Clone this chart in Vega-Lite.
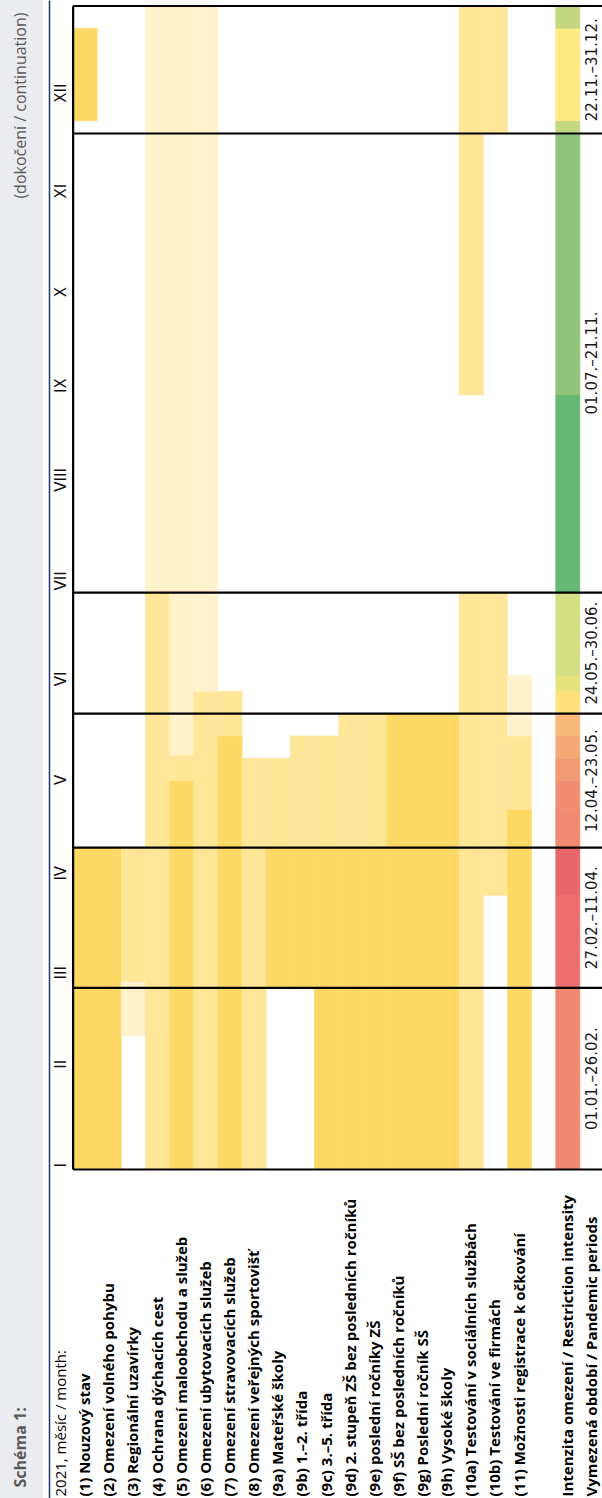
{
  "$schema": "https://vega.github.io/schema/vega-lite/v6.json",
  "width": 559,
  "height": 1498,
  "autosize": {"type": "none"},
  "padding": {"left": 43, "top": 0, "right": 0, "bottom": 0},
  "background": "#EBECEF",
  "view": {"fill": "white", "stroke": null},
  "datasets": {
    "bars": [
      {"row": "(1) Nouzový stav", "from": "2021-01-01", "to": "2021-04-12", "level": "dark"},
      {"row": "(1) Nouzový stav", "from": "2021-11-26", "to": "2021-12-25", "level": "dark"},
      {"row": "(2) Omezení volného pohybu", "from": "2021-01-01", "to": "2021-04-12", "level": "dark"},
      {"row": "(3) Regionální uzavírky", "from": "2021-02-12", "to": "2021-03-01", "level": "light"},
      {"row": "(3) Regionální uzavírky", "from": "2021-03-01", "to": "2021-04-12", "level": "mid"},
      {"row": "(4) Ochrana dýchacích cest", "from": "2021-01-01", "to": "2021-07-01", "level": "mid"},
      {"row": "(4) Ochrana dýchacích cest", "from": "2021-07-01", "to": "2022-01-01", "level": "light"},
      {"row": "(5) Omezení maloobchodu a služeb", "from": "2021-01-01", "to": "2021-05-03", "level": "dark"},
      {"row": "(5) Omezení maloobchodu a služeb", "from": "2021-05-03", "to": "2021-05-11", "level": "mid"},
      {"row": "(5) Omezení maloobchodu a služeb", "from": "2021-05-11", "to": "2022-01-01", "level": "light"},
      {"row": "(6) Omezení ubytovacích služeb", "from": "2021-01-01", "to": "2021-05-31", "level": "mid"},
      {"row": "(6) Omezení ubytovacích služeb", "from": "2021-05-31", "to": "2022-01-01", "level": "light"},
      {"row": "(7) Omezení stravovacích služeb", "from": "2021-01-01", "to": "2021-05-17", "level": "dark"},
      {"row": "(7) Omezení stravovacích služeb", "from": "2021-05-17", "to": "2021-05-31", "level": "mid"},
      {"row": "(8) Omezení veřejných sportovišť", "from": "2021-01-01", "to": "2021-05-10", "level": "mid"},
      {"row": "(9a) Mateřské školy", "from": "2021-02-27", "to": "2021-04-12", "level": "dark"},
      {"row": "(9a) Mateřské školy", "from": "2021-04-12", "to": "2021-05-10", "level": "mid"},
      {"row": "(9b) 1.–2. třída", "from": "2021-02-27", "to": "2021-04-12", "level": "dark"},
      {"row": "(9b) 1.–2. třída", "from": "2021-04-12", "to": "2021-05-17", "level": "mid"},
      {"row": "(9c) 3.–5.  třída", "from": "2021-01-01", "to": "2021-04-12", "level": "dark"},
      {"row": "(9c) 3.–5.  třída", "from": "2021-04-12", "to": "2021-05-17", "level": "mid"},
      {"row": "(9d) 2. stupeň ZŠ bez posledních ročníků", "from": "2021-01-01", "to": "2021-04-12", "level": "dark"},
      {"row": "(9d) 2. stupeň ZŠ bez posledních ročníků", "from": "2021-04-12", "to": "2021-05-24", "level": "mid"},
      {"row": "(9e) poslední ročníky ZŠ", "from": "2021-01-01", "to": "2021-04-12", "level": "dark"},
      {"row": "(9e) poslední ročníky ZŠ", "from": "2021-04-12", "to": "2021-05-24", "level": "mid"},
      {"row": "(9f) SŠ bez posledních ročníků", "from": "2021-01-01", "to": "2021-05-24", "level": "dark"},
      {"row": "(9g) Poslední ročník SŠ", "from": "2021-01-01", "to": "2021-05-24", "level": "dark"},
      {"row": "(9h) Vysoké školy", "from": "2021-01-01", "to": "2021-05-24", "level": "dark"},
      {"row": "(10a) Testování v sociálních službách", "from": "2021-01-01", "to": "2021-07-01", "level": "mid"},
      {"row": "(10a) Testování v sociálních službách", "from": "2021-09-01", "to": "2022-01-01", "level": "mid"},
      {"row": "(10b) Testování ve firmách", "from": "2021-03-28", "to": "2021-07-01", "level": "mid"},
      {"row": "(10b) Testování ve firmách", "from": "2021-11-22", "to": "2022-01-01", "level": "mid"},
      {"row": "(11) Možnosti registrace k očkování", "from": "2021-01-01", "to": "2021-04-24", "level": "dark"},
      {"row": "(11) Možnosti registrace k očkování", "from": "2021-04-24", "to": "2021-05-17", "level": "mid"},
      {"row": "(11) Možnosti registrace k očkování", "from": "2021-05-17", "to": "2021-06-05", "level": "light"},
      {"row": "Intenzita omezení / Restriction intensity", "from": "2021-01-01", "to": "2021-02-27", "level": "s1"},
      {"row": "Intenzita omezení / Restriction intensity", "from": "2021-02-27", "to": "2021-03-28", "level": "r1"},
      {"row": "Intenzita omezení / Restriction intensity", "from": "2021-03-28", "to": "2021-04-12", "level": "r2"},
      {"row": "Intenzita omezení / Restriction intensity", "from": "2021-04-12", "to": "2021-04-24", "level": "s2"},
      {"row": "Intenzita omezení / Restriction intensity", "from": "2021-04-24", "to": "2021-05-03", "level": "o1"},
      {"row": "Intenzita omezení / Restriction intensity", "from": "2021-05-03", "to": "2021-05-10", "level": "o2"},
      {"row": "Intenzita omezení / Restriction intensity", "from": "2021-05-10", "to": "2021-05-17", "level": "o3"},
      {"row": "Intenzita omezení / Restriction intensity", "from": "2021-05-17", "to": "2021-05-24", "level": "o4"},
      {"row": "Intenzita omezení / Restriction intensity", "from": "2021-05-24", "to": "2021-05-31", "level": "y1"},
      {"row": "Intenzita omezení / Restriction intensity", "from": "2021-05-31", "to": "2021-06-05", "level": "g0"},
      {"row": "Intenzita omezení / Restriction intensity", "from": "2021-06-05", "to": "2021-07-01", "level": "g1"},
      {"row": "Intenzita omezení / Restriction intensity", "from": "2021-07-01", "to": "2021-09-01", "level": "g2"},
      {"row": "Intenzita omezení / Restriction intensity", "from": "2021-09-01", "to": "2021-11-22", "level": "g3"},
      {"row": "Intenzita omezení / Restriction intensity", "from": "2021-11-22", "to": "2021-11-26", "level": "g4"},
      {"row": "Intenzita omezení / Restriction intensity", "from": "2021-11-26", "to": "2021-12-25", "level": "y2"},
      {"row": "Intenzita omezení / Restriction intensity", "from": "2021-12-25", "to": "2022-01-01", "level": "g4"}
    ],
    "months": [
      {"month": "2021-01-01", "roman": "I"},
      {"month": "2021-02-01", "roman": "II"},
      {"month": "2021-03-01", "roman": "III"},
      {"month": "2021-04-01", "roman": "IV"},
      {"month": "2021-05-01", "roman": "V"},
      {"month": "2021-06-01", "roman": "VI"},
      {"month": "2021-07-01", "roman": "VII"},
      {"month": "2021-08-01", "roman": "VIII"},
      {"month": "2021-09-01", "roman": "IX"},
      {"month": "2021-10-01", "roman": "X"},
      {"month": "2021-11-01", "roman": "XI"},
      {"month": "2021-12-01", "roman": "XII"}
    ],
    "bounds": [
      {"edge": "2021-01-01"},
      {"edge": "2021-02-27"},
      {"edge": "2021-04-12"},
      {"edge": "2021-05-24"},
      {"edge": "2021-07-01"},
      {"edge": "2021-11-22"},
      {"edge": "2022-01-01"}
    ],
    "span": [
      {"first": "2021-01-01", "last": "2022-01-01"}
    ],
    "periods": [
      {"start": "2021-01-01", "end": "2021-02-27", "label": "01.01.–26.02."},
      {"start": "2021-02-27", "end": "2021-04-12", "label": "27.02.–11.04."},
      {"start": "2021-04-12", "end": "2021-05-24", "label": "12.04.–23.05."},
      {"start": "2021-05-24", "end": "2021-07-01", "label": "24.05.–30.06."},
      {"start": "2021-07-01", "end": "2021-11-22", "label": "01.07.–21.11."},
      {"start": "2021-11-22", "end": "2022-01-01", "label": "22.11.–31.12."}
    ]
  },
  "layer": [
    {
      "data": {"name": "bars", "format": {"parse": {"from": "utc:'%Y-%m-%d'", "to": "utc:'%Y-%m-%d'"}}},
      "mark": {"type": "rect", "strokeWidth": 0.6},
      "encoding": {
        "x": {
          "field": "row",
          "type": "nominal",
          "scale": {
            "type": "band",
            "domain": [
              "2021, měsíc / month:",
              "(1) Nouzový stav",
              "(2) Omezení volného pohybu",
              "(3) Regionální uzavírky",
              "(4) Ochrana dýchacích cest",
              "(5) Omezení maloobchodu a služeb",
              "(6) Omezení ubytovacích služeb",
              "(7) Omezení stravovacích služeb",
              "(8) Omezení veřejných sportovišť",
              "(9a) Mateřské školy",
              "(9b) 1.–2. třída",
              "(9c) 3.–5.  třída",
              "(9d) 2. stupeň ZŠ bez posledních ročníků",
              "(9e) poslední ročníky ZŠ",
              "(9f) SŠ bez posledních ročníků",
              "(9g) Poslední ročník SŠ",
              "(9h) Vysoké školy",
              "(10a) Testování v sociálních službách",
              "(10b) Testování ve firmách",
              "(11) Možnosti registrace k očkování",
              " ",
              "Intenzita omezení / Restriction intensity",
              "Vymezená období / Pandemic periods"
            ],
            "range": [6, 561],
            "paddingInner": 0,
            "paddingOuter": 0
          },
          "axis": {
            "orient": "bottom",
            "domain": false,
            "ticks": false,
            "grid": false,
            "labelAngle": 270,
            "labelAlign": "left",
            "labelBaseline": "middle",
            "labelPadding": -2,
            "labelLimit": 0,
            "labelOverlap": false,
            "labelFont": "Open Sans",
            "labelFontSize": 15,
            "labelFontWeight": {"condition": {"test": "datum.value === '2021, měsíc / month:'", "value": "normal"}, "value": "bold"},
            "labelColor": "#000000",
            "title": "Schéma 1:",
            "titleAngle": 270,
            "titleAlign": "left",
            "titleBaseline": "middle",
            "titleX": -23,
            "titleY": -11,
            "titleFont": "Open Sans",
            "titleFontSize": 16,
            "titleFontWeight": "bold",
            "titleColor": "#595959"
          }
        },
        "y": {
          "field": "from",
          "type": "temporal",
          "scale": {
            "type": "utc",
            "nice": false,
            "domain": [
              {"year": 2020, "month": 9, "date": 19, "hours": 22, "minutes": 48, "utc": true},
              {"year": 2022, "month": 1, "date": 2, "hours": 21, "minutes": 7, "utc": true}
            ]
          },
          "axis": {
            "orient": "left",
            "offset": -6,
            "labels": false,
            "domain": true,
            "domainColor": "#1F3864",
            "domainWidth": 1.5,
            "ticks": false,
            "grid": false,
            "title": "(dokočení / continuation)",
            "titleAngle": 270,
            "titleAlign": "right",
            "titleBaseline": "middle",
            "titleX": -29,
            "titleY": 12,
            "titleFont": "Open Sans",
            "titleFontSize": 16,
            "titleFontWeight": "normal",
            "titleColor": "#595959"
          }
        },
        "y2": {"field": "to"},
        "color": {
          "field": "level",
          "type": "nominal",
          "scale": {
            "domain": ["dark", "mid", "light", "s1", "r1", "r2", "s2", "o1", "o2", "o3", "o4", "y1", "g0", "g1", "g2", "g3", "g4", "y2"],
            "range": ["#FFD966", "#FFE699", "#FFF2CC", "#F08870", "#EC6F6E", "#E8676A", "#F08A71", "#F08E72", "#F29A73", "#F5A977", "#F8BA7A", "#FFE07C", "#E6E27C", "#D4DF83", "#66B875", "#8FC47A", "#C3D880", "#FFEA84"]
          },
          "legend": null
        },
        "stroke": {
          "field": "level",
          "type": "nominal",
          "scale": {
            "domain": ["dark", "mid", "light", "s1", "r1", "r2", "s2", "o1", "o2", "o3", "o4", "y1", "g0", "g1", "g2", "g3", "g4", "y2"],
            "range": ["#FFD966", "#FFE699", "#FFF2CC", "#F08870", "#EC6F6E", "#E8676A", "#F08A71", "#F08E72", "#F29A73", "#F5A977", "#F8BA7A", "#FFE07C", "#E6E27C", "#D4DF83", "#66B875", "#8FC47A", "#C3D880", "#FFEA84"]
          },
          "legend": null
        }
      }
    },
    {
      "data": {"name": "months", "format": {"parse": {"month": "utc:'%Y-%m-%d'"}}},
      "mark": {"type": "text", "angle": 270, "align": "left", "baseline": "middle", "dx": 2, "font": "DejaVu Sans", "fontSize": 15, "color": "#111111"},
      "encoding": {
        "x": {"datum": "2021, měsíc / month:", "type": "nominal"},
        "y": {"field": "month", "type": "temporal"},
        "text": {"field": "roman", "type": "nominal"}
      }
    },
    {
      "data": {"name": "bounds", "format": {"parse": {"edge": "utc:'%Y-%m-%d'"}}},
      "mark": {"type": "rule", "color": "#000000", "strokeWidth": 2.2},
      "encoding": {
        "x": {"datum": "(1) Nouzový stav", "type": "nominal", "bandPosition": 0},
        "x2": {"datum": "Vymezená období / Pandemic periods", "bandPosition": 1},
        "y": {"field": "edge", "type": "temporal"}
      }
    },
    {
      "data": {"name": "span", "format": {"parse": {"first": "utc:'%Y-%m-%d'", "last": "utc:'%Y-%m-%d'"}}},
      "mark": {"type": "rule", "color": "#000000", "strokeWidth": 2.2},
      "encoding": {
        "x": {"datum": "(1) Nouzový stav", "type": "nominal", "bandPosition": 0},
        "y": {"field": "first", "type": "temporal"},
        "y2": {"field": "last"}
      }
    },
    {
      "data": {"name": "periods", "format": {"parse": {"start": "utc:'%Y-%m-%d'", "end": "utc:'%Y-%m-%d'"}}},
      "transform": [{"fold": ["start", "end"], "as": ["side", "when"]}],
      "mark": {"type": "text", "angle": 270, "font": "DejaVu Sans", "fontSize": 15, "align": "center", "baseline": "middle", "color": "#1A1A1A"},
      "encoding": {
        "x": {"datum": "Vymezená období / Pandemic periods", "type": "nominal"},
        "y": {"aggregate": "mean", "field": "when", "type": "temporal"},
        "text": {"field": "label", "type": "nominal"}
      }
    }
  ]
}
